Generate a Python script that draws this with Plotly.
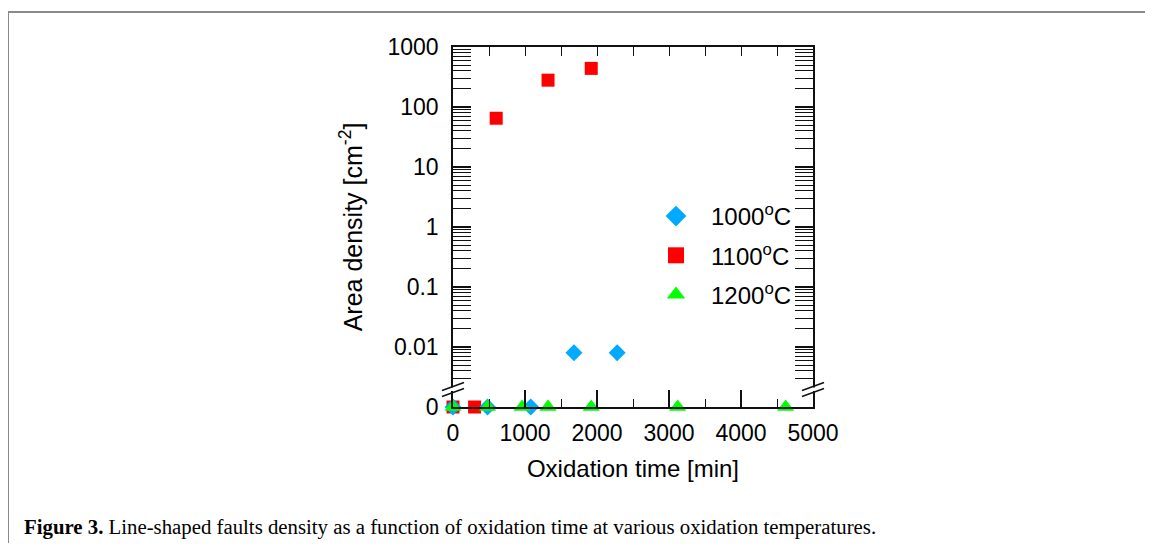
import plotly.graph_objects as go

# ---------------- data ----------------
t_1000 = [0, 480, 1080, 1680, 2280]
d_1000 = [0, 0, 0, 0.008, 0.008]
t_1100 = [0, 300, 600, 1320, 1920]
d_1100 = [0, 0, 65, 280, 440]
t_1200 = [0, 480, 960, 1320, 1920, 3120, 4620]
d_1200 = [0, 0, 0, 0, 0, 0, 0]

series_names = ["1000<sup>o</sup>C", "1100<sup>o</sup>C", "1200<sup>o</sup>C"]
x_tickvals = [0, 1000, 2000, 3000, 4000, 5000]
y_tickvals = [1e-3, 1e-2, 1e-1, 1, 10, 100, 1000]
y_ticktext = ["0", "0.01", "0.1", "1", "10", "100", "1000"]
ZERO_FLOOR = 1e-3  # zero values are drawn on the broken-axis "0" row

caption_bold = "Figure 3."
caption_text = " Line-shaped faults density as a function of oxidation time at various oxidation temperatures."

# ---------------- styling ----------------
colors = {"1000": "#00AAFF", "1100": "#FF0000", "1200": "#00FF00"}
symbols = {"1000": "diamond", "1100": "square", "1200": "triangle-up"}
sizes = {"1000": 13, "1100": 13, "1200": 15}
FONT = "Liberation Sans, Arial, sans-serif"
AX = "#111111"

OFF = 8  # default page body margin
W, H = 1153 - 2 * OFF, 551 - 2 * OFF
PX0, PY0, PW, PH = 453, 47, 360, 360  # plot area in screen pixels
L, T = PX0 - OFF, PY0 - OFF
R, B = W - L - PW, H - T - PH


def px_x(p):
    return (p - PX0) / PW


def px_y(p):
    return (PY0 + PH - p) / PH


def floor0(vals):
    return [v if v > 0 else ZERO_FLOOR for v in vals]


fig = go.Figure()

# draw order: red, blue, green (green on top)
for key, xs, ys in [("1100", t_1100, d_1100), ("1000", t_1000, d_1000), ("1200", t_1200, d_1200)]:
    fig.add_trace(go.Scatter(
        x=xs, y=floor0(ys), mode="markers", showlegend=False, cliponaxis=False,
        marker=dict(symbol=symbols[key], size=sizes[key], color=colors[key], line=dict(width=0)),
    ))

# legend entries (larger symbols like the reference legend)
for i, key in enumerate(["1000", "1100", "1200"]):
    fig.add_trace(go.Scatter(
        x=[None], y=[None], mode="markers", name=series_names[i], xaxis="x2",
        legendgroup=key,
        marker=dict(symbol=symbols[key], size=16, color=colors[key], line=dict(width=0)),
    ))

minor_y = [k * 10 ** e for e in range(-3, 3) for k in range(2, 10) if not (e == -3 and k < 3)]

fig.update_layout(
    width=W, height=H,
    margin=dict(l=L, r=R, t=T, b=B, autoexpand=False),
    paper_bgcolor="white", plot_bgcolor="white",
    font=dict(family=FONT, color="black"),
    xaxis=dict(
        range=[0, 5000], tickmode="array", tickvals=x_tickvals,
        ticks="inside", ticklen=17, tickwidth=1.5, tickcolor=AX,
        minor=dict(dtick=500, tick0=0, ticks="inside", ticklen=8, tickwidth=1.2, tickcolor=AX, showgrid=False),
        showline=True, linecolor=AX, linewidth=1.5, showgrid=False, zeroline=False,
        tickfont=dict(size=23, family=FONT), ticklabelstandoff=5,
        title=dict(text="Oxidation time [min]", font=dict(size=24, family=FONT), standoff=15),
    ),
    xaxis2=dict(
        range=[0, 5000], overlaying="x", side="top", anchor="y",
        tickmode="linear", tick0=0, dtick=500, ticks="inside", ticklen=9, tickwidth=1.2, tickcolor=AX,
        showticklabels=False, showline=True, linecolor=AX, linewidth=1.5, showgrid=False, zeroline=False,
    ),
    yaxis=dict(
        type="log", range=[-3, 3], tickmode="array", tickvals=y_tickvals, ticktext=y_ticktext,
        ticks="inside", ticklen=18, tickwidth=1.5, tickcolor=AX,
        minor=dict(tickmode="array", tickvals=minor_y, ticks="inside", ticklen=9, tickwidth=1,
                   tickcolor=AX, showgrid=False),
        showline=True, linecolor=AX, linewidth=1.5, mirror="allticks", showgrid=False, zeroline=False,
        tickfont=dict(size=23, family=FONT), ticklabelstandoff=8,
        title=dict(text="Area density [cm<sup>-2</sup>]", font=dict(size=25, family=FONT), standoff=18),
    ),
    legend=dict(
        x=px_x(641), y=px_y(194), xanchor="left", yanchor="top",
        bgcolor="rgba(0,0,0,0)", borderwidth=0, itemwidth=60,
        font=dict(size=24, family=FONT), tracegroupgap=5,
    ),
    showlegend=True,
)

shapes = []
# axis breaks (two parallel slashes + gap) on left and right axes
for xc in (PX0, PX0 + PW):
    shapes.append(dict(type="rect", xref="paper", yref="paper",
                       x0=px_x(xc - 4), x1=px_x(xc + 4), y0=px_y(391), y1=px_y(387.5),
                       fillcolor="white", line=dict(width=0), layer="above"))
    for yc in (386.5, 392.5):
        shapes.append(dict(type="line", xref="paper", yref="paper",
                           x0=px_x(xc - 11), y0=px_y(yc + 4), x1=px_x(xc + 11), y1=px_y(yc - 4),
                           line=dict(color=AX, width=1.5), layer="above"))

# figure frame (gray)
shapes.append(dict(type="line", xref="paper", yref="paper",
                   x0=px_x(8), y0=px_y(12), x1=px_x(1170), y1=px_y(12),
                   line=dict(color="#8a8a8a", width=2)))
shapes.append(dict(type="line", xref="paper", yref="paper",
                   x0=px_x(8), y0=px_y(12), x1=px_x(8), y1=px_y(570),
                   line=dict(color="#8a8a8a", width=2)))
fig.update_layout(shapes=shapes)

fig.add_annotation(
    xref="paper", yref="paper", x=px_x(22), y=px_y(527), xanchor="left", yanchor="middle",
    showarrow=False, align="left",
    text=f"<b>{caption_bold}</b>{caption_text}",
    font=dict(family="Liberation Serif, Times New Roman, serif", size=20.8, color="black"),
)

fig.write_html("out.html")
